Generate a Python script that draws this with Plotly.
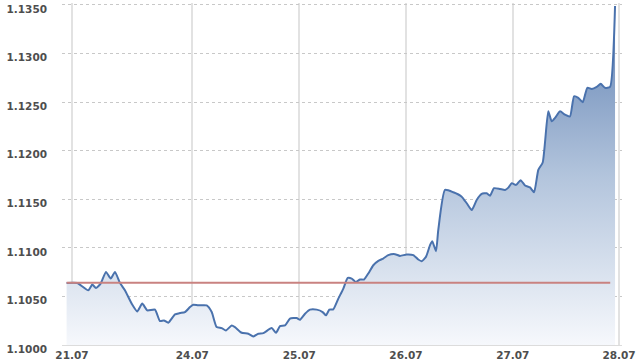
import plotly.graph_objects as go

# time in trading days from 21.07, and EUR/USD rate
t = [-0.050, 0.050, 0.152, 0.190, 0.224, 0.268, 0.318, 0.362, 0.402, 0.449,
     0.495, 0.558, 0.610, 0.657, 0.704, 0.776, 0.822, 0.860, 0.900, 0.963,
     1.009, 1.056, 1.103, 1.134, 1.180, 1.259, 1.306, 1.352, 1.399, 1.439,
     1.493, 1.523, 1.586, 1.648, 1.694, 1.741, 1.788, 1.866, 1.907, 1.944,
     1.991, 2.037, 2.100, 2.131, 2.178, 2.224, 2.287, 2.343, 2.374, 2.405,
     2.442, 2.489, 2.536, 2.577, 2.614, 2.651, 2.692, 2.729, 2.769, 2.816,
     2.863, 2.909, 2.956, 3.019, 3.065, 3.128, 3.190, 3.236, 3.268, 3.308,
     3.346, 3.367, 3.402, 3.423, 3.486, 3.564, 3.642, 3.689, 3.736, 3.782,
     3.829, 3.876, 3.907, 3.944, 4.000, 4.047, 4.078, 4.109, 4.150, 4.192,
     4.234, 4.280, 4.318, 4.358, 4.399, 4.451, 4.483, 4.514, 4.561, 4.607,
     4.654, 4.692, 4.732, 4.773, 4.816, 4.857, 4.904, 4.941, 4.981, 5.028,
     5.075]
rate = [1.10638, 1.10638, 1.10563, 1.10622, 1.10587, 1.10632, 1.10752, 1.10684, 1.10752, 1.10638,
        1.10563, 1.10426, 1.10346, 1.10426, 1.10356, 1.10364, 1.10246, 1.10253, 1.10229, 1.10315,
        1.10329, 1.10339, 1.10390, 1.10415, 1.10408, 1.10408, 1.10339, 1.10184, 1.10174, 1.10150,
        1.10201, 1.10184, 1.10126, 1.10116, 1.10088, 1.10116, 1.10122, 1.10174, 1.10126, 1.10194,
        1.10201, 1.10271, 1.10277, 1.10260, 1.10322, 1.10364, 1.10364, 1.10339, 1.10305, 1.10364,
        1.10367, 1.10477, 1.10581, 1.10690, 1.10684, 1.10649, 1.10674, 1.10674, 1.10736, 1.10821,
        1.10866, 1.10890, 1.10925, 1.10935, 1.10917, 1.10932, 1.10925, 1.10880, 1.10863, 1.10907,
        1.11028, 1.11069, 1.10966, 1.11183, 1.11596, 1.11572, 1.11527, 1.11459, 1.11389, 1.11493,
        1.11555, 1.11562, 1.11537, 1.11614, 1.11606, 1.11596, 1.11620, 1.11665, 1.11648, 1.11696,
        1.11642, 1.11622, 1.11572, 1.11803, 1.11878, 1.12405, 1.12302, 1.12337, 1.12405, 1.12371,
        1.12353, 1.12560, 1.12543, 1.12498, 1.12647, 1.12636, 1.12657, 1.12688, 1.12647, 1.12657,
        1.13490]

ref_level = 1.1064
ref_t = [-0.050, 5.03]

tick_pos = [0, 1.124, 2.124, 3.121, 4.119, 5.112]
tick_labels = ["21.07", "24.07", "25.07", "26.07", "27.07", "28.07"]
y_ticks = [1.1000, 1.1050, 1.1100, 1.1150, 1.1200, 1.1250, 1.1300, 1.1350]

fig = go.Figure()
fig.add_trace(go.Scatter(
    x=t, y=rate, mode="lines",
    line=dict(color="#4a72ad", width=2, shape="spline", smoothing=0.5),
    fill="tozeroy",
    fillgradient=dict(type="vertical", start=1.1, stop=1.135,
                      colorscale=[[0, "rgba(246,248,252,1)"],
                                  [0.5, "rgba(178,196,220,1)"],
                                  [1, "rgba(95,128,178,1)"]]),
    hoverinfo="skip", showlegend=False))
fig.add_trace(go.Scatter(
    x=ref_t, y=[ref_level, ref_level], mode="lines",
    line=dict(color="#c98280", width=2), showlegend=False, hoverinfo="skip"))

font = dict(family="DejaVu Sans", size=10.5, color="#4e4e4e", weight="bold")
fig.update_layout(
    width=640, height=360,
    margin=dict(l=62, r=18, t=3, b=15, autoexpand=False),
    paper_bgcolor="white", plot_bgcolor="white",
    xaxis=dict(range=[-0.093, 5.14], tickvals=tick_pos, ticktext=tick_labels,
               showgrid=True, gridcolor="#e2e2e2", gridwidth=2, automargin=False,
               zeroline=False, showline=True, linecolor="#dcdcdc", linewidth=1,
               tickfont=font, ticks="", ticklabelstandoff=0),
    yaxis=dict(range=[1.1, 1.1352], tickvals=y_ticks, ticktext=[f"{v:.4f}" for v in y_ticks],
               showgrid=True, gridcolor="#c8c8c8", gridwidth=1, griddash="dot",
               zeroline=False, showline=False, ticklabeloverflow="allow", automargin=False,
               tickfont=font, ticks="", ticklabelstandoff=14, ticklabelshift=4),
)
fig.write_html("out.html")
